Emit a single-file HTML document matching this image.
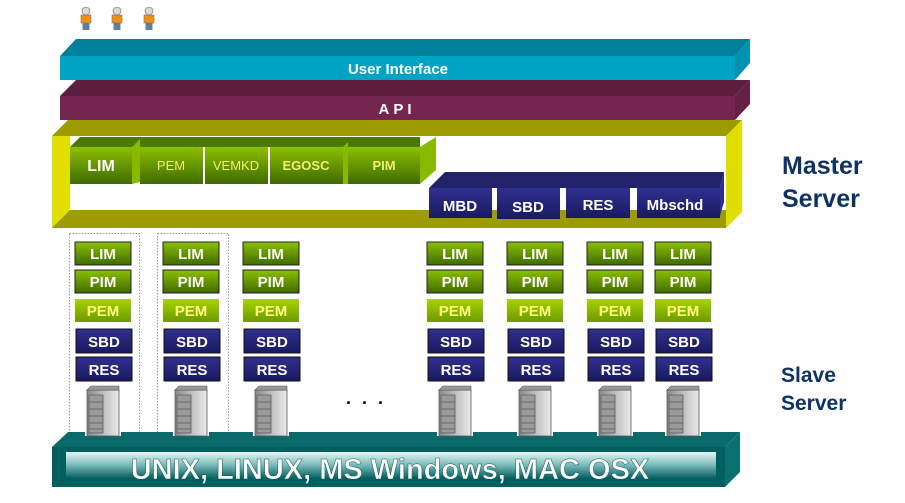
<!DOCTYPE html>
<html><head><meta charset="utf-8"><style>
html,body{margin:0;padding:0;background:#fff;width:905px;height:503px;overflow:hidden}
svg{display:block}
text{font-family:"Liberation Sans",Arial,sans-serif;font-weight:bold}
</style></head><body>
<svg width="905" height="503" viewBox="0 0 905 503" xmlns="http://www.w3.org/2000/svg">
<defs>
<linearGradient id="gG" x1="0" y1="0" x2="0" y2="1"><stop offset="0" stop-color="#8cc000"/><stop offset="1" stop-color="#3e6a00"/></linearGradient>
<linearGradient id="gP" x1="0" y1="0" x2="0" y2="1"><stop offset="0" stop-color="#a8d400"/><stop offset="1" stop-color="#6a9a00"/></linearGradient>
<linearGradient id="gB" x1="0" y1="0" x2="0" y2="1"><stop offset="0" stop-color="#303090"/><stop offset="1" stop-color="#1a1a60"/></linearGradient>
<linearGradient id="gOS" x1="0" y1="0" x2="0" y2="1"><stop offset="0" stop-color="#e8f8f8"/><stop offset="0.5" stop-color="#7ababa"/><stop offset="1" stop-color="#0a6060"/></linearGradient>
<linearGradient id="gSrv" x1="0" y1="0" x2="1" y2="0"><stop offset="0" stop-color="#8a8a8a"/><stop offset="0.6" stop-color="#c8c8c8"/><stop offset="1" stop-color="#e8e8e8"/></linearGradient>
<g id="person"><circle cx="0" cy="-6" r="4" fill="#d8d8d8" stroke="#666" stroke-width="0.6"/><rect x="-5" y="-2" width="10" height="8" fill="#f09010" stroke="#666" stroke-width="0.5"/><rect x="-3.5" y="6" width="7" height="7" fill="#6080a0"/></g>
<g id="srv"><polygon points="0,4 4,0 36,0 36,50 0,50" fill="#fff"/><rect x="2" y="4" width="32" height="46" fill="url(#gSrv)" stroke="#555" stroke-width="0.8"/><polygon points="2,4 6,0 34,0 34,4" fill="#999" stroke="#555" stroke-width="0.6"/><g stroke="#555" stroke-width="0.7" fill="none"><rect x="4" y="9" width="14" height="38" fill="#9a9a9a"/><line x1="4" y1="16" x2="18" y2="16"/><line x1="4" y1="23" x2="18" y2="23"/><line x1="4" y1="30" x2="18" y2="30"/><line x1="4" y1="37" x2="18" y2="37"/><line x1="4" y1="43" x2="18" y2="43"/></g></g>
</defs>

<use href="#person" x="86" y="17"/><use href="#person" x="117" y="17"/><use href="#person" x="149" y="17"/>

<!-- User Interface -->
<polygon points="60,56 76,39 750,39 735,56" fill="#00809a"/>
<rect x="60" y="56" width="675" height="24" fill="#00a3c4"/>
<polygon points="735,56 750,39 750,63 735,80" fill="#0090b0"/>
<text x="398" y="74" font-size="15" fill="#fff" text-anchor="middle">User Interface</text>

<!-- API -->
<polygon points="60,96 76,80 750,80 735,96" fill="#5c1f40"/>
<rect x="60" y="96" width="675" height="24" fill="#74264e"/>
<polygon points="735,96 750,80 750,104 735,120" fill="#661f45"/>
<text x="397" y="114" font-size="15" fill="#fff" text-anchor="middle" letter-spacing="4">API</text>

<!-- Master frame -->
<polygon points="52,136 68,120 742,120 726,136" fill="#9c9c00"/>
<rect x="52" y="136" width="18" height="92" fill="#e0e000"/>
<polygon points="52,228 70,210 726,210 726,228" fill="#9c9c00"/>
<polygon points="726,136 742,120 742,212 726,228" fill="#dede00"/>
<rect x="70" y="136" width="656" height="74" fill="#fff"/>

<!-- master green modules -->
<g>
<polygon points="70,147 80,137 420,137 420,147" fill="#4a7a00"/>
<polygon points="420,147 436,137 436,170 420,184" fill="#88bb00"/>
<rect x="70" y="147" width="62" height="37" fill="url(#gG)"/>
<rect x="140" y="147" width="63" height="37" fill="url(#gG)"/>
<rect x="205" y="147" width="63" height="37" fill="url(#gG)"/>
<rect x="270" y="147" width="73" height="37" fill="url(#gG)"/>
<rect x="348" y="147" width="72" height="37" fill="url(#gG)"/>
<polygon points="132,147 140,139 140,182 132,184" fill="#88bb00"/>
<polygon points="343,147 348,142 348,184 343,184" fill="#88bb00"/>
<text x="101" y="171" font-size="16" fill="#fff" text-anchor="middle">LIM</text>
<text x="171" y="170" font-size="13" style="font-weight:normal" fill="#f0f070" text-anchor="middle">PEM</text>
<text x="236" y="170" font-size="13" style="font-weight:normal" fill="#f0f070" text-anchor="middle">VEMKD</text>
<text x="306" y="170" font-size="13" fill="#f0f070" text-anchor="middle">EGOSC</text>
<text x="384" y="170" font-size="13" fill="#f0f070" text-anchor="middle">PIM</text>
</g>

<!-- master blue modules -->
<polygon points="429,188 445,172 724,172 720,188" fill="#22226a"/>
<polygon points="720,188 724,172 724,202 720,216" fill="#2e2e90"/>
<rect x="429" y="188" width="63" height="30" fill="url(#gB)"/>
<rect x="497" y="188" width="63" height="31" fill="url(#gB)"/>
<rect x="566" y="188" width="64" height="30" fill="url(#gB)"/>
<rect x="637" y="188" width="83" height="30" fill="url(#gB)"/>
<text x="460" y="211" font-size="15" fill="#fff" text-anchor="middle">MBD</text>
<text x="528" y="212" font-size="15" fill="#fff" text-anchor="middle">SBD</text>
<text x="598" y="210" font-size="15" fill="#fff" text-anchor="middle">RES</text>
<text x="675" y="210" font-size="15" fill="#fff" text-anchor="middle">Mbschd</text>

<text x="782" y="174" font-size="25" fill="#0d3366">Master</text>
<text x="782" y="207" font-size="25" fill="#0d3366">Server</text>
<text x="781" y="382" font-size="21" fill="#0d3366">Slave</text>
<text x="781" y="410" font-size="21" fill="#0d3366">Server</text>

<!-- dotted boxes -->
<rect x="69.5" y="233.5" width="70" height="210" fill="none" stroke="#8899aa" stroke-dasharray="1.5,1.5"/>
<rect x="157.5" y="233.5" width="71" height="210" fill="none" stroke="#8899aa" stroke-dasharray="1.5,1.5"/>

<!-- OS bar -->
<polygon points="52,447 68,432 740,432 725,447" fill="#0a6a6a"/>
<rect x="52" y="447" width="673" height="40" fill="#006060"/>
<polygon points="725,447 740,432 740,472 725,487" fill="#0a7070"/>
<rect x="66" y="452" width="650" height="26" fill="url(#gOS)"/>
<text x="390" y="479" font-size="29" fill="#fff" text-anchor="middle" stroke="#0a5a5a" stroke-width="0.5">UNIX, LINUX, MS Windows, MAC OSX</text>

<text x="366" y="404" font-size="18" fill="#000" text-anchor="middle" letter-spacing="3">. . .</text>

<!-- slave columns -->
<g id="cols">
<g transform="translate(75,0)">
<rect x="0" y="242" width="56" height="23" fill="url(#gG)" stroke="#222"/><text x="28" y="259" font-size="15" fill="#fff" text-anchor="middle">LIM</text>
<rect x="0" y="270" width="56" height="23" fill="url(#gG)" stroke="#222"/><text x="28" y="287" font-size="15" fill="#fff" text-anchor="middle">PIM</text>
<rect x="0" y="299" width="56" height="23" fill="url(#gP)"/><text x="28" y="316" font-size="15" fill="#ffff80" text-anchor="middle">PEM</text>
<rect x="1" y="329" width="56" height="24" fill="url(#gB)" stroke="#111"/><text x="29" y="347" font-size="15" fill="#fff" text-anchor="middle">SBD</text>
<rect x="1" y="357" width="56" height="24" fill="url(#gB)" stroke="#111"/><text x="29" y="375" font-size="15" fill="#fff" text-anchor="middle">RES</text>
<use href="#srv" x="10" y="386"/>
</g>
</g>
<use href="#cols" x="88"/>
<use href="#cols" x="168"/>
<use href="#cols" x="352"/>
<use href="#cols" x="432"/>
<use href="#cols" x="512"/>
<use href="#cols" x="580"/>
</svg>
</body></html>
